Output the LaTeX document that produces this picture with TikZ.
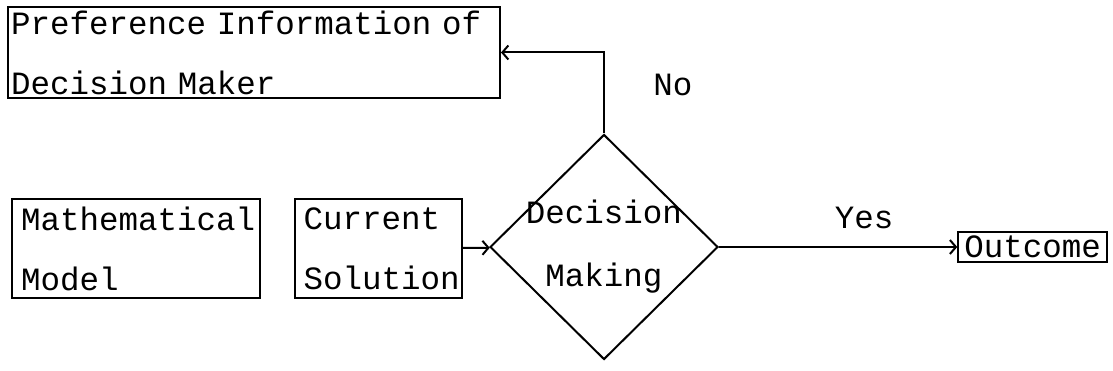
\documentclass[tikz,border=0pt]{standalone}
\usepackage{fontspec}
\setmonofont{Liberation Mono}
\usetikzlibrary{arrows.meta,shapes.geometric}
\tikzset{
box/.style={draw, line width=2pt, rectangle, align=left, inner sep=0pt},
decision/.style={draw, line width=2pt, diamond, aspect=1, align=center, inner sep=-12pt},
arr/.style={->,>={Straight Barb[length=6pt,width=14pt]},line width=2pt},
}
\tikzstyle{every node}=[font=\ttfamily\fontsize{32.5}{60}\selectfont]

\begin{document}
\begin{tikzpicture}[x=1pt,y=-1pt]
        \useasboundingbox (0,0) rectangle (1113,371);

        \node[box, minimum width=492pt, minimum height=91pt, text width=486pt] (pref) at (254,52.5)
            {Preference Information of\\Decision Maker};
        \node[box, minimum width=248pt, minimum height=99pt, text width=230pt] (model) at (136,248.5)
            {Mathematical\\Model};
        \node[box, minimum width=167pt, minimum height=99pt, text width=150pt] (sol) at (378.5,248.5)
            {Current\\Solution};
        \node[decision, minimum width=228pt, minimum height=225pt,
            font=\ttfamily\fontsize{32.5}{63}\selectfont] (dm) at (604,247)
            {Decision\\Making};
        \node[box, inner xsep=6pt, minimum height=30pt] (out) at (1032.5,247) {Outcome};

        \draw[arr] (sol) -- (dm);
        \draw[arr] (dm) -- (out)
            node[midway, above=14pt, xshift=26pt] {Yes};
        \draw[arr] (dm.north) |- (pref.east)
            node[pos=0.3, right=45pt] {No};
    \end{tikzpicture}
\end{document}
